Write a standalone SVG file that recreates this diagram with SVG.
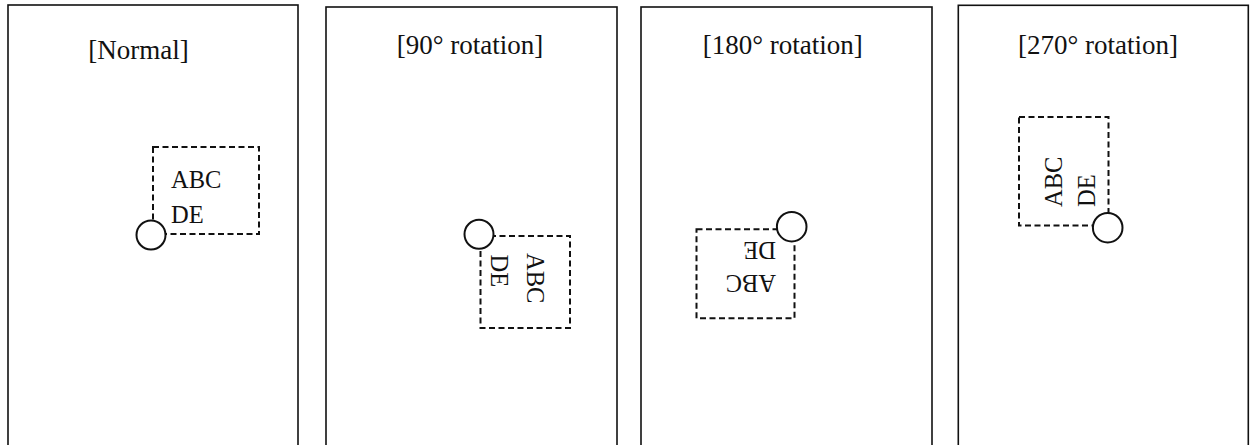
<svg xmlns="http://www.w3.org/2000/svg" width="1255" height="445" viewBox="0 0 1255 445">
<style>
.panel{fill:#fff;stroke:#111;stroke-width:1.6}
.title{font-family:"Liberation Serif","Times New Roman",serif;font-size:27px;fill:#111;text-anchor:middle}
.lbl{font-family:"Liberation Serif","Times New Roman",serif;font-size:24.5px;fill:#111}
.dash{fill:none;stroke:#111;stroke-width:2;stroke-dasharray:6,3.5}
.pin{fill:#fff;stroke:#111;stroke-width:2}
</style>
<rect width="1255" height="445" fill="#fff"/>
<g id="panel-normal">
<rect class="panel" x="8" y="5" width="290" height="460"/>
<text class="title" x="138.5" y="59.3">[Normal]</text>
<rect class="dash" x="153" y="147" width="106" height="87"/>
<text class="lbl" x="171" y="188.3">ABC</text>
<text class="lbl" x="171" y="223.3">DE</text>
<circle class="pin" cx="151" cy="235" r="14.5"/>
</g>
<g id="panel-90">
<rect class="panel" x="326" y="7" width="291" height="460"/>
<text class="title" x="470" y="54.3">[90° rotation]</text>
<rect class="dash" x="480.5" y="236" width="89.5" height="92"/>
<text class="lbl" transform="translate(527,253) rotate(90)">ABC</text>
<text class="lbl" transform="translate(491,254.5) rotate(90)">DE</text>
<circle class="pin" cx="479" cy="234.3" r="14.5"/>
</g>
<g id="panel-180">
<rect class="panel" x="641" y="7" width="291" height="460"/>
<text class="title" x="782.7" y="54.3">[180° rotation]</text>
<rect class="dash" x="696.5" y="229.3" width="98" height="89"/>
<text class="lbl" transform="translate(776,275) rotate(180)">ABC</text>
<text class="lbl" transform="translate(776,242) rotate(180)">DE</text>
<circle class="pin" cx="791.7" cy="226.7" r="14.8"/>
</g>
<g id="panel-270">
<rect class="panel" x="958.3" y="5.3" width="290" height="460"/>
<text class="title" x="1098" y="53.5">[270° rotation]</text>
<rect class="dash" x="1019" y="117" width="89.5" height="108.5"/>
<text class="lbl" transform="translate(1062,207) rotate(-90)">ABC</text>
<text class="lbl" transform="translate(1095,207) rotate(-90)">DE</text>
<circle class="pin" cx="1107.7" cy="227.7" r="14.8"/>
</g>
<g id="connectors"></g>
</svg>
